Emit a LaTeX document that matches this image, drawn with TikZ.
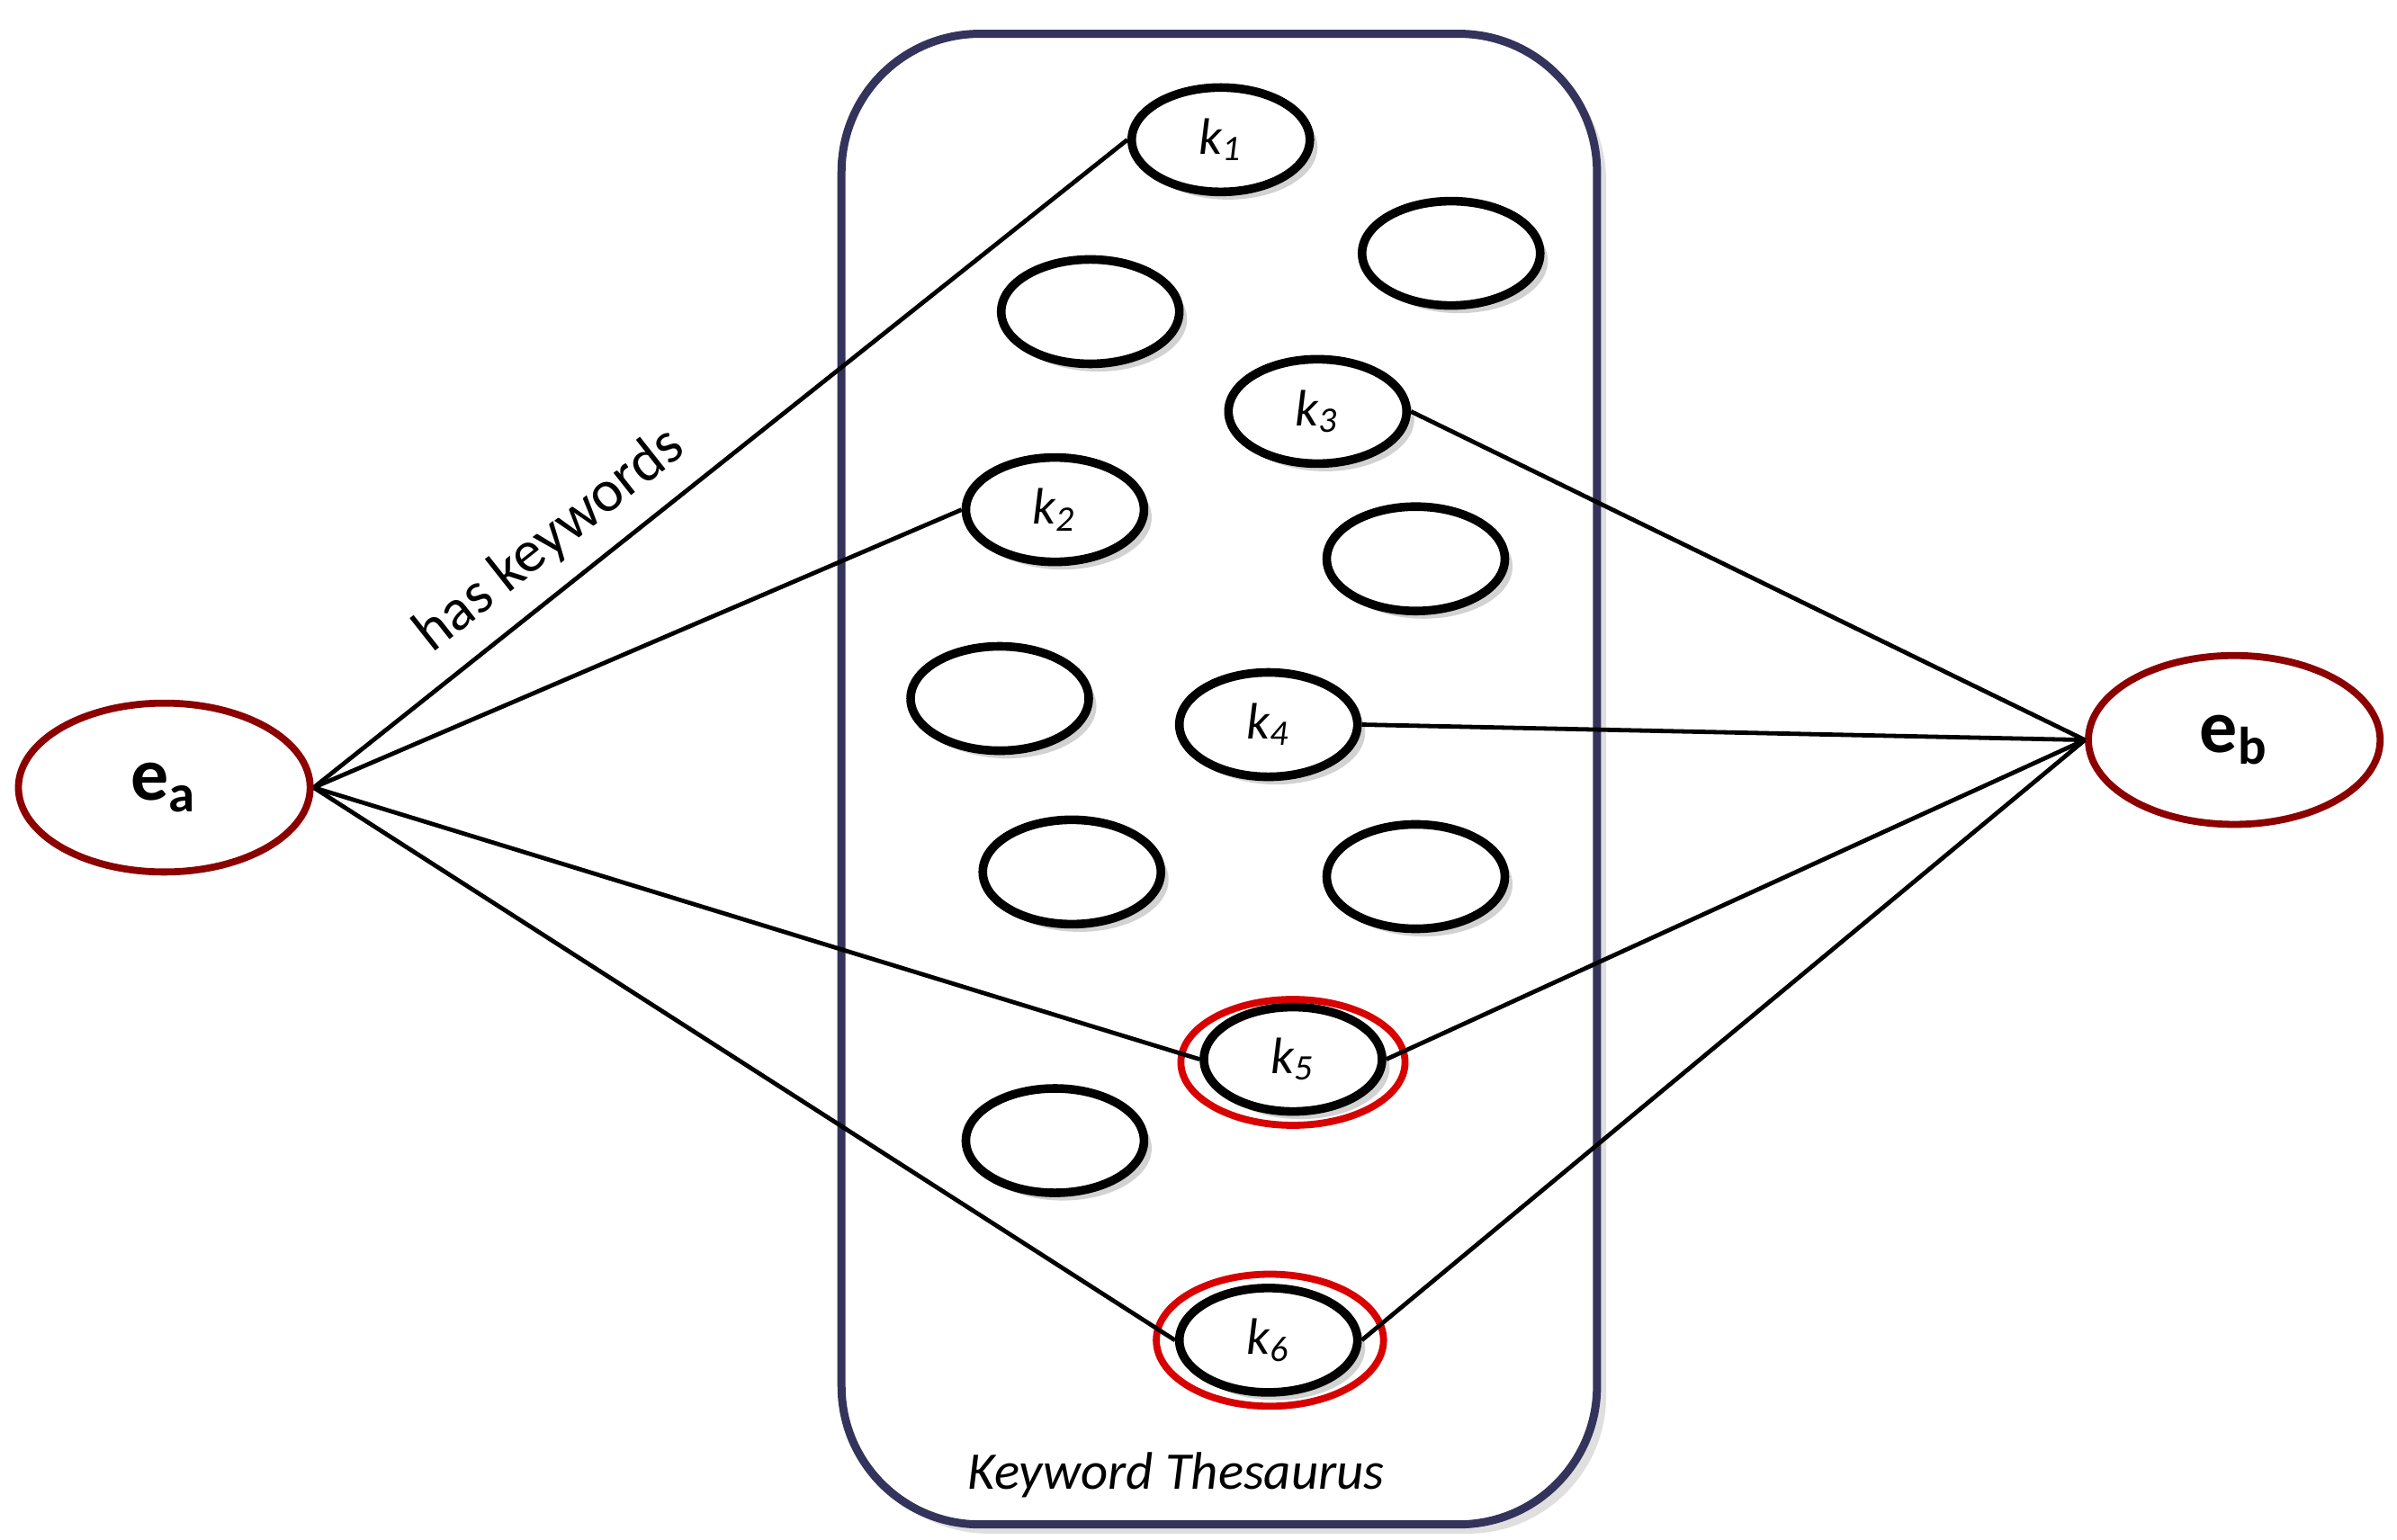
\documentclass[tikz,border=0pt]{standalone}
\usepackage{fontspec}
\setmainfont{Carlito}
\usetikzlibrary{shapes.geometric,shadows}
\newcommand{\kk}[1]{\textit{k\textsubscript{#1}}}
\begin{document}
\begin{tikzpicture}[x=0.1mm,y=-0.1mm,
  kw/.style={ellipse,draw=black,line width=1.6pt,minimum width=11.6mm,minimum height=6.8mm,inner sep=0pt,fill=white,
    drop shadow={shadow xshift=0.5mm,shadow yshift=-0.5mm,fill=black!35},font=\fontsize{9.5}{10}\selectfont},
  ring/.style={ellipse,draw=red!85!black,line width=1.3pt,minimum width=14.6mm,minimum height=8.2mm,inner sep=0pt},
  ent/.style={ellipse,draw=red!55!black,line width=1.3pt,minimum width=19mm,minimum height=11mm,inner sep=0pt,fill=white,
    font=\bfseries\fontsize{14}{14}\selectfont},
  ln/.style={line width=0.8pt}]
\useasboundingbox (0,0) rectangle (1561,1003);
\node[draw=blue!20!black!80,line width=1.5pt,rounded corners=9mm,minimum width=49.2mm,minimum height=97.1mm,
  drop shadow={shadow xshift=0.6mm,shadow yshift=-0.6mm,fill=black!25},fill=white] (box) at (794,507.5) {};
\node[font=\itshape\fontsize{9.8}{10}\selectfont] (kt) at (766,961) {Keyword Thesaurus};
\node[kw] (k1) at (795,91) {\kk{1}};
\node[kw] (n1) at (945,165) {};
\node[kw] (n2) at (710,203) {};
\node[kw] (k3) at (858,268) {\kk{3}};
\node[kw] (k2) at (687,332) {\kk{2}};
\node[kw] (n3) at (922,364) {};
\node[kw] (n4) at (651,455) {};
\node[kw] (k4) at (826,472) {\kk{4}};
\node[kw] (n5) at (698,568) {};
\node[kw] (n6) at (922,571) {};
\node[ring] (r5) at (842,692) {};
\node[kw] (k5) at (842,690) {\kk{5}};
\node[kw] (n7) at (687,743) {};
\node[ring,minimum width=14.8mm,minimum height=8.6mm] (r6) at (827,873) {};
\node[kw] (k6) at (826,873) {\kk{6}};
\node[ent] (ea) at (107,513) {e\textsubscript{a}};
\node[ent] (eb) at (1455,482) {e\textsubscript{b}};
\foreach \k in {k1,k2,k5,k6} \draw[ln] (ea.east) -- (\k.west);
\foreach \k in {k3,k4,k5,k6} \draw[ln] (eb.west) -- (\k.east);
\node[rotate=38.3,font=\fontsize{11}{11}\selectfont] (hk) at (358,352) {has keywords};
\end{tikzpicture}
\end{document}
